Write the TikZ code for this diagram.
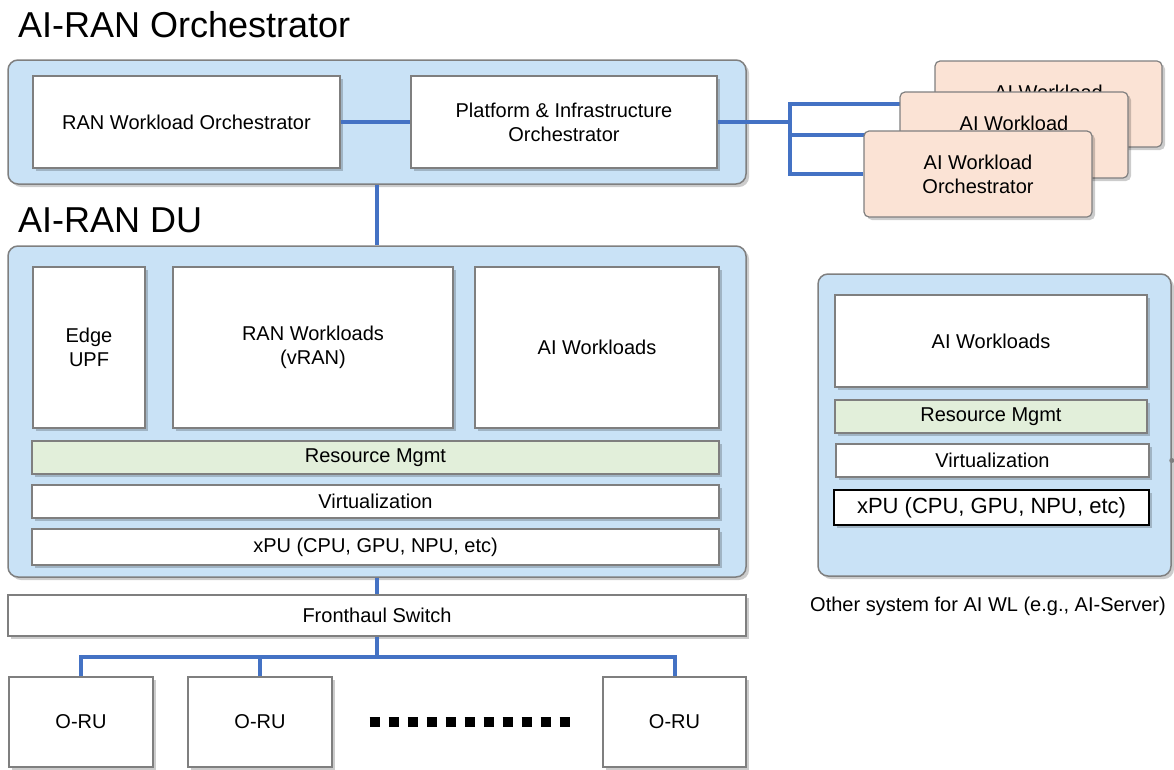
\documentclass[tikz,border=0pt]{standalone}
\usepackage{fontspec}
\setmainfont{Liberation Sans}
\usetikzlibrary{shadows}
\definecolor{panelBlue}{HTML}{C9E2F6}
\definecolor{lineBlue}{HTML}{4472C4}
\definecolor{peach}{HTML}{FBE3D5}
\definecolor{mgmtGreen}{HTML}{E2EFDA}
\definecolor{edgeGray}{HTML}{7F7F7F}
\pgfdeclarelayer{back}
\pgfdeclarelayer{front}
\pgfsetlayers{back,main,front}

\begin{document}
\begin{tikzpicture}[x=1pt, y=-1pt, font=\fontsize{20}{24}\selectfont,
  softshadow/.style={drop shadow={shadow xshift=3pt, shadow yshift=-3pt, opacity=0.2, fill=black}},
  panel/.style={draw=edgeGray, line width=1.5pt, fill=panelBlue, rounded corners=10pt, softshadow, inner sep=0pt},
  blk/.style={draw=edgeGray, line width=1.2pt, fill=white, softshadow, align=center, inner sep=0pt},
  mgmt/.style={blk, fill=mgmtGreen},
  wlcard/.style={blk, fill=peach, rounded corners=5pt},
  link/.style={draw=lineBlue, line width=4pt},
  ttl/.style={font=\fontsize{36}{40}\selectfont, anchor=base west, inner sep=0pt},
]
  \useasboundingbox (0,0) rectangle (1174,769);

  \node[ttl] (orchttl) at (18,37) {AI-RAN Orchestrator};
  \node[ttl] (duttl) at (18,232) {AI-RAN DU};

  \begin{pgfonlayer}{back}
    \node[panel, minimum width=738pt, minimum height=124pt] (orch) at (377,122) {};
    \node[panel, minimum width=738pt, minimum height=331pt] (du) at (377,411.5) {};
    \node[panel, minimum width=353pt, minimum height=302pt] (srv) at (994.5,425) {};
  \end{pgfonlayer}

  \node[blk, minimum width=307pt, minimum height=92pt] (rwo) at (186.5,122) {RAN Workload Orchestrator};
  \node[blk, minimum width=306pt, minimum height=92pt] (pio) at (564,122) {Platform \& Infrastructure\\Orchestrator};

  \begin{pgfonlayer}{front}
    \node[wlcard, minimum width=227pt, minimum height=86pt] (wl3) at (1048.5,104) {AI Workload\\\mbox{}};
    \node[wlcard, minimum width=228pt, minimum height=86pt] (wl2) at (1014,135) {AI Workload\\\mbox{}};
    \node[wlcard, minimum width=228pt, minimum height=86pt] (wl1) at (978,174) {AI Workload\\Orchestrator};
  \end{pgfonlayer}

  \node[blk, minimum width=112pt, minimum height=161pt] (upf) at (89,347.5) {Edge\\UPF};
  \node[blk, minimum width=280pt, minimum height=161pt] (vran) at (313,347.5) {RAN Workloads\\(vRAN)};
  \node[blk, minimum width=244pt, minimum height=161pt] (aiwl) at (597,347.5) {AI Workloads};
  \node[mgmt, minimum width=687pt, minimum height=33pt] (rm) at (375.5,457.5) {Resource Mgmt};
  \node[blk, minimum width=687pt, minimum height=33pt] (virt) at (375.5,501.5) {Virtualization};
  \node[blk, minimum width=687pt, minimum height=36pt] (xpu) at (375.5,547) {xPU (CPU, GPU, NPU, etc)};

  \node[blk, minimum width=738pt, minimum height=41pt] (fh) at (377,615.5) {Fronthaul Switch};
  \node[blk, minimum width=144pt, minimum height=90pt] (ru1) at (81,722) {O-RU};
  \node[blk, minimum width=144pt, minimum height=90pt] (ru2) at (260,722) {O-RU};
  \node[blk, minimum width=143pt, minimum height=90pt] (ru3) at (674.5,722) {O-RU};

  \node[blk, minimum width=312pt, minimum height=92pt] (aiwl2) at (991,341) {AI Workloads};
  \node[mgmt, minimum width=312pt, minimum height=33pt] (rm2) at (991,416.5) {Resource Mgmt};
  \node[blk, minimum width=313pt, minimum height=33pt] (virt2) at (992.5,460.5) {Virtualization};
  \node[blk, draw=black, line width=2pt, minimum width=315pt, minimum height=35pt,
        font=\fontsize{22}{26}\selectfont] (xpu2) at (991.5,507.5) {xPU (CPU, GPU, NPU, etc)};
  \node (srvcap) at (988,606) {Other system for AI WL (e.g., AI-Server)};
  \fill[edgeGray] (srv.east |- virt2.center) circle (2.5pt);

  \coordinate (orchsplit) at (790,122);
  \coordinate (fhsplit) at (377,657);
  \draw[link] (rwo) -- (pio);
  \draw[link] (pio.east) -- (orchsplit);
  \foreach \w in {wl3,wl2,wl1}
    \draw[link] (orchsplit) |- (\w.west);
  \draw[link] (orch.south) -- (du.north);
  \draw[link] (du.south) -- (fh.north);
  \draw[link] (fh.south) -- (fhsplit);
  \foreach \r in {ru1,ru2,ru3}
    \draw[link] (fhsplit) -| (\r.north);
  \draw[line width=10pt, dash pattern=on 10pt off 9pt]
    ([xshift=37pt]ru2.east) -- ([xshift=-26pt]ru3.west);
\end{tikzpicture}
\end{document}
